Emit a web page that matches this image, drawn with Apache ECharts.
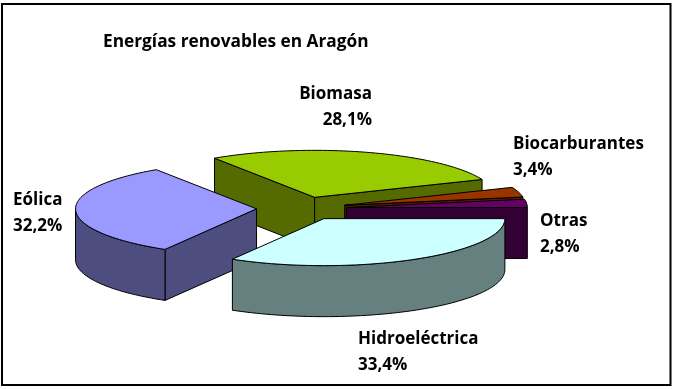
<!DOCTYPE html>
<html><head><meta charset="utf-8">
<style>html,body{margin:0;padding:0;background:#fff}#c{width:673px;height:389px}</style>
<script src="https://cdn.jsdelivr.net/npm/echarts@6/dist/echarts.min.js"></script>
</head><body><div id="c"></div>
<script>
var titleText = 'Energías renovables en Aragón';
var categories = ['Hidroeléctrica', 'Eólica', 'Biomasa', 'Biocarburantes', 'Otras'];
var shares = [33.4, 32.2, 28.1, 3.4, 2.8];
var topColors = ['#CCFFFF', '#9999FF', '#99CC00', '#993300', '#660066'];
var sideColors = ['#668080', '#4D4D80', '#556B00', '#551C00', '#330033'];
var labelX = [358, 13, 372, 513, 540];
var labelY = [338, 199, 93, 143, 220];
var labelAlign = ['left', 'left', 'right', 'left', 'left'];

var CX = 301.5, CY = 208.5, RX = 181, RY = 47, DEPTH = 51, EXPLODE = 45;
var FONT = '700 17px "Open Sans"';
var LINE = 26;

var total = shares.reduce(function (a, b) { return a + b; }, 0);
var slices = [], acc = 0;
shares.forEach(function (v) {
  var a0 = acc / total * 2 * Math.PI; acc += v;
  var a1 = acc / total * 2 * Math.PI;
  var m = (a0 + a1) / 2;
  slices.push({ a0: a0, a1: a1, ox: CX + EXPLODE * Math.cos(m), oy: CY + EXPLODE * Math.sin(m) * RY / RX, sinM: Math.sin(m) });
});
var order = slices.map(function (s, i) { return i; }).sort(function (p, q) { return slices[p].sinM - slices[q].sinM; });

function pt(s, a, d) { return [s.ox + RX * Math.cos(a), s.oy + RY * Math.sin(a) + (d || 0)]; }
function arc(s, a0, a1, d) {
  var out = [], n = Math.max(2, Math.ceil((a1 - a0) / 0.03));
  for (var i = 0; i <= n; i++) out.push(pt(s, a0 + (a1 - a0) * i / n, d));
  return out;
}
function poly(points, fill, z) {
  return { type: 'polygon', z2: z, shape: { points: points }, style: { fill: fill, stroke: '#000', lineWidth: 1, lineJoin: 'round' } };
}
function renderItem(params, api) {
  var i = params.dataIndex, s = slices[i], rank = order.indexOf(i) * 10 + 1;
  var kids = [], side = sideColors[i], apex = [s.ox, s.oy], apexB = [s.ox, s.oy + DEPTH];
  if (Math.cos(s.a0) < 0) kids.push(poly([apex, pt(s, s.a0), pt(s, s.a0, DEPTH), apexB], side, rank));
  if (Math.cos(s.a1) > 0) kids.push(poly([apex, pt(s, s.a1), pt(s, s.a1, DEPTH), apexB], side, rank));
  var f0 = Math.max(s.a0, 0), f1 = Math.min(s.a1, Math.PI);
  if (f1 > f0) kids.push(poly(arc(s, f0, f1, 0).concat(arc(s, f0, f1, DEPTH).reverse()), side, rank + 1));
  kids.push(poly([apex].concat(arc(s, s.a0, s.a1, 0)), topColors[i], rank + 2));
  kids.push({
    type: 'text', z2: 100,
    style: {
      text: categories[i] + '\n' + api.value(0).toFixed(1).replace('.', ',') + '%',
      x: labelX[i], y: labelY[i] - 12, font: FONT, fill: '#000', align: labelAlign[i], verticalAlign: 'top', lineHeight: LINE
    }
  });
  return { type: 'group', children: kids };
}
var chart = echarts.init(document.getElementById('c'), null, { renderer: 'canvas' });
chart.setOption({
  animation: false,
  backgroundColor: '#fff',
  title: { text: titleText, left: 98, top: 29, textStyle: { fontFamily: 'Open Sans', fontWeight: 700, fontSize: 17.3, color: '#000' } },
  graphic: [{ type: 'rect', silent: true, z: -1, shape: { x: 2, y: 4, width: 668.5, height: 381 }, style: { fill: '#fff', stroke: '#000', lineWidth: 2 } }],
  series: [{ type: 'custom', coordinateSystem: 'none', renderItem: renderItem, clip: false, data: shares.map(function (v, i) { return { name: categories[i], value: [v] }; }) }]
});
</script></body></html>
